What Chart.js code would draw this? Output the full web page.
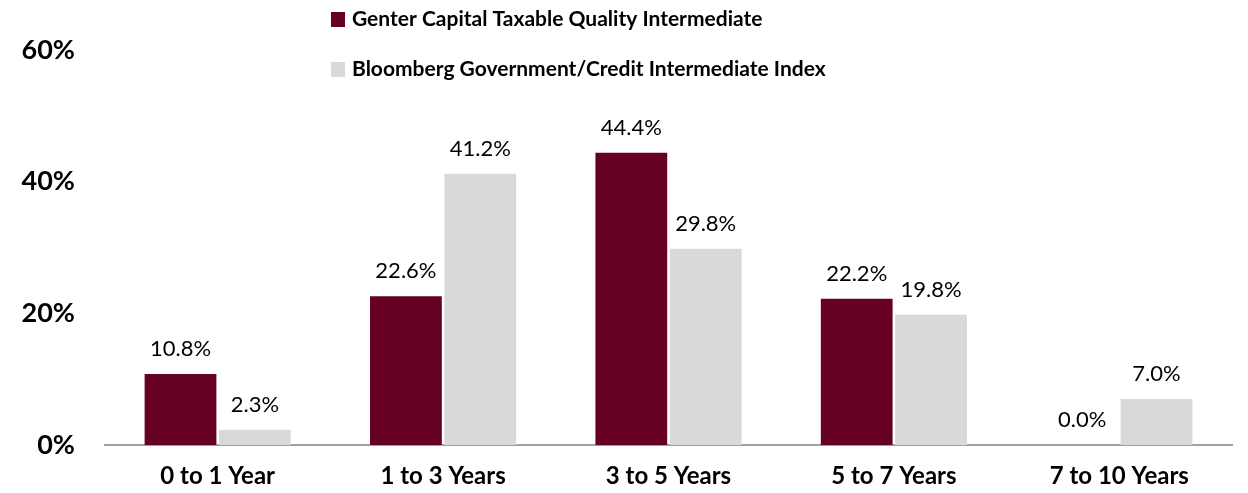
<!DOCTYPE html>
<html>
<head>
<meta charset="utf-8">
<script src="https://cdn.jsdelivr.net/npm/chart.js@4"></script>
<style>
  html, body { margin: 0; padding: 0; background: #fff; }
  #wrap { width: 1248px; height: 493px; }
</style>
</head>
<body>
<div id="wrap"><canvas id="chart"></canvas></div>
<script>
var categories = ['0 to 1 Year', '1 to 3 Years', '3 to 5 Years', '5 to 7 Years', '7 to 10 Years'];
var genterValues = [10.8, 22.6, 44.4, 22.2, 0.0];
var bloombergValues = [2.3, 41.2, 29.8, 19.8, 7.0];
var seriesNames = ['Genter Capital Taxable Quality Intermediate', 'Bloomberg Government/Credit Intermediate Index'];
var yTicks = [0, 20, 40, 60];

// value labels above each bar
var barLabels = {
    id: 'barLabels',
    afterDatasetsDraw: function(chart) {
        var ctx = chart.ctx;
        ctx.save();
        ctx.font = '22px Lato';
        ctx.fillStyle = '#000';
        ctx.textAlign = 'center';
        ctx.textBaseline = 'middle';
        chart.data.datasets.forEach(function(ds, i) {
            chart.getDatasetMeta(i).data.forEach(function(bar, j) {
                ctx.fillText(ds.data[j].toFixed(1) + '%', bar.x, bar.y - 25);
            });
        });
        ctx.restore();
    }
};

// stacked legend, one series per row
var rowLegend = {
    id: 'rowLegend',
    afterDraw: function(chart) {
        var ctx = chart.ctx;
        ctx.save();
        ctx.font = 'bold 21px Lato';
        ctx.textBaseline = 'middle';
        ctx.textAlign = 'left';
        chart.data.datasets.forEach(function(ds, i) {
            var y = 19.5 + i * 50;
            ctx.fillStyle = ds.backgroundColor;
            ctx.fillRect(331, y - 7.5, 14, 15);
            ctx.fillStyle = '#000';
            ctx.fillText(ds.label, 352, y);
        });
        ctx.restore();
    }
};

var ctx = document.getElementById('chart').getContext('2d');
var chart = new Chart(ctx, {
    type: 'bar',
    data: {
        labels: categories,
        datasets: [
            {
                label: seriesNames[0],
                backgroundColor: '#660024',
                data: genterValues
            },
            {
                label: seriesNames[1],
                backgroundColor: '#d9d9d9',
                data: bloombergValues
            }
        ]
    },
    options: {
        responsive: true,
        maintainAspectRatio: false,
        animation: false,
        categoryPercentage: 0.66,
        barPercentage: 0.965,
        layout: { padding: { top: 50, right: 16, left: 20, bottom: 0 } },
        plugins: {
            legend: { display: false },
            tooltip: { enabled: false }
        },
        scales: {
            x: {
                grid: { display: false, drawTicks: false },
                border: { display: true, color: '#a0a0a0', width: 2 },
                ticks: {
                    color: '#000',
                    padding: 17,
                    font: { family: 'Lato', weight: 'bold', size: 24 }
                },
                afterFit: function(scale) { scale.height = 48; }
            },
            y: {
                min: 0,
                max: 60,
                grid: { display: false, drawTicks: false },
                border: { display: false },
                afterBuildTicks: function(scale) {
                    scale.ticks = yTicks.map(function(v) { return { value: v }; });
                },
                ticks: {
                    color: '#000',
                    padding: 30,
                    font: { family: 'Lato', weight: 'bold', size: 27 },
                    callback: function(v) { return v + '%'; }
                },
                afterFit: function(scale) { scale.width = 85; }
            }
        }
    },
    plugins: [barLabels, rowLegend]
});
</script>
</body>
</html>
